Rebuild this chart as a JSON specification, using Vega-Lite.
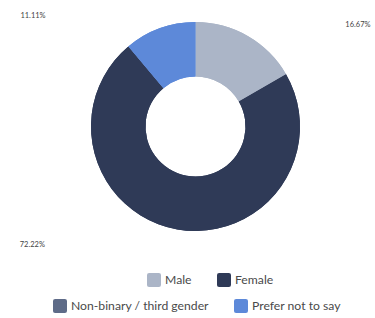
{
  "$schema": "https://vega.github.io/schema/vega-lite/v6.json",
  "autosize": {"type": "none"},
  "width": 359,
  "height": 253,
  "padding": {"left": 16, "top": 0, "right": 0, "bottom": 65},
  "background": "#ffffff",
  "config": {"view": {"stroke": null}, "font": "Lato"},
  "data": {"values": [
    {"gender": "Male", "pct": 16.67, "idx": 1, "label": "16.67%"},
    {"gender": "Female", "pct": 72.22, "idx": 2, "label": "72.22%"},
    {"gender": "Non-binary / third gender", "pct": 0, "idx": 3, "label": "0%"},
    {"gender": "Prefer not to say", "pct": 11.11, "idx": 4, "label": "11.11%"}
  ]},
  "encoding": {
    "theta": {"field": "pct", "type": "quantitative", "stack": true},
    "order": {"field": "idx", "type": "quantitative"}
  },
  "layer": [
    {
      "mark": {"type": "arc", "outerRadius": 104.5, "innerRadius": 50},
      "encoding": {
        "color": {
          "field": "gender", "type": "nominal",
          "scale": {"domain": ["Male", "Female", "Non-binary / third gender", "Prefer not to say"], "range": ["#abb5c7", "#2f3a57", "#5e6b88", "#5d89d9"]},
          "legend": {
            "values": ["Male", "Female"], "title": null, "orient": "none", "direction": "horizontal",
            "legendX": 131, "legendY": 273,
            "symbolType": "M -0.7 -1 L 0.7 -1 Q 1 -1 1 -0.7 L 1 0.7 Q 1 1 0.7 1 L -0.7 1 Q -1 1 -1 0.7 L -1 -0.7 Q -1 -1 -0.7 -1 Z",
            "symbolSize": 196, "symbolStrokeWidth": 0, "symbolOpacity": 1,
            "labelFontSize": 12.2, "labelColor": "#4a4a4a", "labelOffset": 4, "columnPadding": 25, "labelFont": "Lato"
          }
        }
      }
    },
    {
      "mark": {"type": "arc", "outerRadius": 104.5, "innerRadius": 50},
      "encoding": {
        "fill": {
          "field": "gender", "type": "nominal",
          "scale": {"domain": ["Non-binary / third gender", "Prefer not to say", "Male", "Female"], "range": ["#5e6b88", "#5d89d9", "#abb5c7", "#2f3a57"]},
          "legend": {
            "values": ["Non-binary / third gender", "Prefer not to say"], "title": null, "orient": "none", "direction": "horizontal",
            "legendX": 37, "legendY": 299,
            "symbolType": "M -0.7 -1 L 0.7 -1 Q 1 -1 1 -0.7 L 1 0.7 Q 1 1 0.7 1 L -0.7 1 Q -1 1 -1 0.7 L -1 -0.7 Q -1 -1 -0.7 -1 Z",
            "symbolSize": 196, "symbolStrokeWidth": 0, "symbolOpacity": 1,
            "labelFontSize": 12.2, "labelColor": "#4a4a4a", "labelOffset": 4, "columnPadding": 25, "labelFont": "Lato"
          }
        }
      }
    },
    {
      "mark": {"type": "text", "radius": 119.6, "align": "left", "baseline": "middle", "dx": 90, "dy": 2, "fontSize": 7.5, "color": "#444444"},
      "encoding": {"text": {"condition": {"test": "datum.gender == 'Male'", "field": "label"}, "value": ""}}
    },
    {
      "mark": {"type": "text", "radius": 119.6, "align": "right", "baseline": "middle", "dx": -109, "dy": 2, "fontSize": 7.5, "color": "#444444"},
      "encoding": {"text": {"condition": {"test": "datum.gender == 'Prefer not to say'", "field": "label"}, "value": ""}}
    },
    {
      "mark": {"type": "text", "radius": 118.5, "align": "right", "baseline": "middle", "dx": -130, "dy": 2, "fontSize": 7.5, "color": "#444444"},
      "encoding": {"text": {"condition": {"test": "datum.gender == 'Female'", "field": "label"}, "value": ""}}
    }
  ]
}
